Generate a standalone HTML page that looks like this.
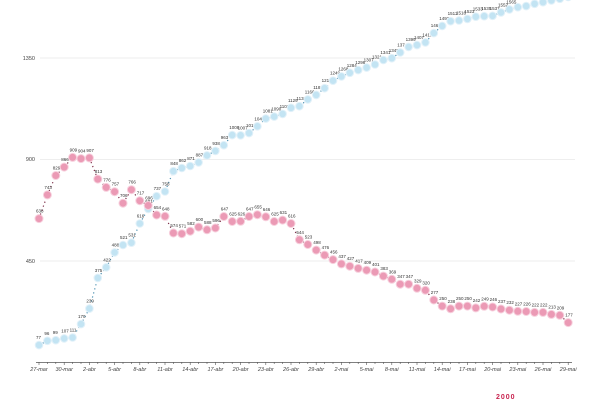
<!DOCTYPE html>
<html><head><meta charset="utf-8"><style>
html,body{margin:0;padding:0;background:#fff;width:600px;height:400px;overflow:hidden}
svg{display:block;font-family:"Liberation Sans",sans-serif}
.l{font-size:4.5px;fill:#333}
.r circle{fill:#eb9ab5;stroke:#f7d0dd;stroke-width:1}
.b circle{fill:#c3e4f3;stroke:#e2f1f9;stroke-width:1}
.ax{font-size:5.5px;fill:#444;font-style:italic}
</style></head><body>
<svg width="600" height="400" viewBox="0 0 600 400">
<g stroke="#e8e8e8" stroke-width="0.8">
<line x1="40" y1="58" x2="575" y2="58"/>
<line x1="40" y1="159.5" x2="575" y2="159.5"/>
<line x1="40" y1="261" x2="575" y2="261"/>
</g>
<g class="ax" text-anchor="end" style="font-style:normal">
<text x="35" y="60">1350</text><text x="35" y="161">900</text><text x="35" y="263">450</text>
</g>
<line x1="36" y1="362.5" x2="572" y2="362.5" stroke="#555" stroke-width="0.8"/>
<g stroke="#555" stroke-width="0.6">
<path d="M39 362v3M47.4 362v2M55.8 362v2M64.2 362v3M72.6 362v2M81 362v2M89.4 362v3M97.8 362v2M106.2 362v2M114.6 362v3M123 362v2M131.4 362v2M139.8 362v3M148.2 362v2M156.6 362v2M165 362v3M173.4 362v2M181.8 362v2M190.2 362v3M198.6 362v2M207 362v2M215.4 362v3M223.8 362v2M232.2 362v2M240.6 362v3M249 362v2M257.4 362v2M265.8 362v3M274.2 362v2M282.6 362v2M291 362v3M299.4 362v2M307.8 362v2M316.2 362v3M324.6 362v2M333 362v2M341.4 362v3M349.8 362v2M358.2 362v2M366.6 362v3M375 362v2M383.4 362v2M391.8 362v3M400.2 362v2M408.6 362v2M417 362v3M425.4 362v2M433.8 362v2M442.2 362v3M450.6 362v2M459 362v2M467.4 362v3M475.8 362v2M484.2 362v2M492.6 362v3M501 362v2M509.4 362v2M517.8 362v3M526.2 362v2M534.6 362v2M543 362v3M551.4 362v2M559.8 362v2M568.2 362v3"/>
</g>
<g class="ax" text-anchor="middle">
<text x="39" y="371">27-mar</text><text x="64.2" y="371">30-mar</text><text x="89.4" y="371">2-abr</text><text x="114.6" y="371">5-abr</text><text x="139.8" y="371">8-abr</text><text x="165" y="371">11-abr</text><text x="190.2" y="371">14-abr</text><text x="215.4" y="371">17-abr</text><text x="240.6" y="371">20-abr</text><text x="265.8" y="371">23-abr</text><text x="291" y="371">26-abr</text><text x="316.2" y="371">29-abr</text><text x="341.4" y="371">2-mai</text><text x="366.6" y="371">5-mai</text><text x="391.8" y="371">8-mai</text><text x="417" y="371">11-mai</text><text x="442.2" y="371">14-mai</text><text x="467.4" y="371">17-mai</text><text x="492.6" y="371">20-mai</text><text x="517.8" y="371">23-mai</text><text x="543" y="371">26-mai</text><text x="568.2" y="371">29-mai</text>
</g>
<polyline fill="none" stroke="#7a2a45" stroke-width="1.2" stroke-dasharray="1.2 3" points="39,218.6 47.4,194.9 55.8,175.5 64.2,167.1 72.6,157.4 81,158.6 89.4,157.9 97.8,179.1 106.2,187.4 114.6,191.7 123,203.2 131.4,189.7 139.8,200.7 148.2,205.5 156.6,215 165,216.3 173.4,233 181.8,233.7 190.2,231.2 198.6,227.1 207,229.8 215.4,228 223.8,216.5 232.2,221.5 240.6,221.3 249,216.5 257.4,214.7 265.8,216.8 274.2,221.5 282.6,220.1 291,223.5 299.4,239.8 307.8,244.5 316.2,250.1 324.6,255.1 333,259.6 341.4,263.9 349.8,266.2 358.2,268.4 366.6,270.2 375,272 383.4,276.1 391.8,279.3 400.2,284.2 408.6,284.2 417,288.3 425.4,290.3 433.8,300 442.2,306.1 450.6,308.8 459,306.1 467.4,306.1 475.8,307.9 484.2,306.3 492.6,307 501,309 509.4,310.2 517.8,311.3 526.2,311.5 534.6,312.4 543,312.4 551.4,314.4 559.8,315.3 568.2,322.6"/>
<polyline fill="none" stroke="#4a8fb0" stroke-width="1.2" stroke-dasharray="1.2 3" points="39,345.1 47.4,340.8 55.8,340.2 64.2,338.4 72.6,337.5 81,324.1 89.4,308.6 97.8,277.9 106.2,267.3 114.6,252.4 123,245 131.4,242.7 139.8,223.5 148.2,208.9 156.6,196.2 165,191.5 173.4,171.2 181.8,168 190.2,166 198.6,162.4 207,155.4 215.4,150.9 223.8,145.2 232.2,135.1 240.6,135.3 249,133.1 257.4,126.3 265.8,118.6 274.2,116.6 282.6,113.9 291,107.8 299.4,106.2 307.8,99.4 316.2,94.9 324.6,88.2 333,80.7 341.4,76.4 349.8,72.8 358.2,70.1 366.6,67.6 375,64.5 383.4,60 391.8,58.2 400.2,52.5 408.6,46.9 417,45.1 425.4,42.4 433.8,33.1 442.2,25.9 450.6,21.2 459,20.5 467.4,18.9 475.8,16.7 484.2,16.2 492.6,15.8 501,12.4 509.4,9.4 517.8,7.2 526.2,6.1 534.6,3.8 543,2.2 551.4,0.4 559.8,-1.2 568.2,-3"/>
<g class="b">
<g transform="translate(39,345.1)"><circle r="3.8"/><text class="l" x="-3" y="-6">77</text></g>
<g transform="translate(47.4,340.8)"><circle r="3.8"/><text class="l" x="-3" y="-6">96</text></g>
<g transform="translate(55.8,340.2)"><circle r="3.8"/><text class="l" x="-3" y="-6">99</text></g>
<g transform="translate(64.2,338.4)"><circle r="3.8"/><text class="l" x="-3" y="-6">107</text></g>
<g transform="translate(72.6,337.5)"><circle r="3.8"/><text class="l" x="-3" y="-6">111</text></g>
<g transform="translate(81,324.1)"><circle r="3.8"/><text class="l" x="-3" y="-6">170</text></g>
<g transform="translate(89.4,308.6)"><circle r="3.8"/><text class="l" x="-3" y="-6">239</text></g>
<g transform="translate(97.8,277.9)"><circle r="3.8"/><text class="l" x="-3" y="-6">375</text></g>
<g transform="translate(106.2,267.3)"><circle r="3.8"/><text class="l" x="-3" y="-6">422</text></g>
<g transform="translate(114.6,252.4)"><circle r="3.8"/><text class="l" x="-3" y="-6">488</text></g>
<g transform="translate(123,245)"><circle r="3.8"/><text class="l" x="-3" y="-6">521</text></g>
<g transform="translate(131.4,242.7)"><circle r="3.8"/><text class="l" x="-3" y="-6">531</text></g>
<g transform="translate(139.8,223.5)"><circle r="3.8"/><text class="l" x="-3" y="-6">616</text></g>
<g transform="translate(148.2,208.9)"><circle r="3.8"/><text class="l" x="-3" y="-6">681</text></g>
<g transform="translate(156.6,196.2)"><circle r="3.8"/><text class="l" x="-3" y="-6">737</text></g>
<g transform="translate(165,191.5)"><circle r="3.8"/><text class="l" x="-3" y="-6">758</text></g>
<g transform="translate(173.4,171.2)"><circle r="3.8"/><text class="l" x="-3" y="-6">848</text></g>
<g transform="translate(181.8,168)"><circle r="3.8"/><text class="l" x="-3" y="-6">862</text></g>
<g transform="translate(190.2,166)"><circle r="3.8"/><text class="l" x="-3" y="-6">871</text></g>
<g transform="translate(198.6,162.4)"><circle r="3.8"/><text class="l" x="-3" y="-6">887</text></g>
<g transform="translate(207,155.4)"><circle r="3.8"/><text class="l" x="-3" y="-6">918</text></g>
<g transform="translate(215.4,150.9)"><circle r="3.8"/><text class="l" x="-3" y="-6">938</text></g>
<g transform="translate(223.8,145.2)"><circle r="3.8"/><text class="l" x="-3" y="-6">963</text></g>
<g transform="translate(232.2,135.1)"><circle r="3.8"/><text class="l" x="-3" y="-6">1008</text></g>
<g transform="translate(240.6,135.3)"><circle r="3.8"/><text class="l" x="-3" y="-6">1007</text></g>
<g transform="translate(249,133.1)"><circle r="3.8"/><text class="l" x="-3" y="-6">1017</text></g>
<g transform="translate(257.4,126.3)"><circle r="3.8"/><text class="l" x="-3" y="-6">1047</text></g>
<g transform="translate(265.8,118.6)"><circle r="3.8"/><text class="l" x="-3" y="-6">1081</text></g>
<g transform="translate(274.2,116.6)"><circle r="3.8"/><text class="l" x="-3" y="-6">1090</text></g>
<g transform="translate(282.6,113.9)"><circle r="3.8"/><text class="l" x="-3" y="-6">1102</text></g>
<g transform="translate(291,107.8)"><circle r="3.8"/><text class="l" x="-3" y="-6">1129</text></g>
<g transform="translate(299.4,106.2)"><circle r="3.8"/><text class="l" x="-3" y="-6">1136</text></g>
<g transform="translate(307.8,99.4)"><circle r="3.8"/><text class="l" x="-3" y="-6">1166</text></g>
<g transform="translate(316.2,94.9)"><circle r="3.8"/><text class="l" x="-3" y="-6">1186</text></g>
<g transform="translate(324.6,88.2)"><circle r="3.8"/><text class="l" x="-3" y="-6">1216</text></g>
<g transform="translate(333,80.7)"><circle r="3.8"/><text class="l" x="-3" y="-6">1249</text></g>
<g transform="translate(341.4,76.4)"><circle r="3.8"/><text class="l" x="-3" y="-6">1268</text></g>
<g transform="translate(349.8,72.8)"><circle r="3.8"/><text class="l" x="-3" y="-6">1284</text></g>
<g transform="translate(358.2,70.1)"><circle r="3.8"/><text class="l" x="-3" y="-6">1296</text></g>
<g transform="translate(366.6,67.6)"><circle r="3.8"/><text class="l" x="-3" y="-6">1307</text></g>
<g transform="translate(375,64.5)"><circle r="3.8"/><text class="l" x="-3" y="-6">1321</text></g>
<g transform="translate(383.4,60)"><circle r="3.8"/><text class="l" x="-3" y="-6">1341</text></g>
<g transform="translate(391.8,58.2)"><circle r="3.8"/><text class="l" x="-3" y="-6">1349</text></g>
<g transform="translate(400.2,52.5)"><circle r="3.8"/><text class="l" x="-3" y="-6">1374</text></g>
<g transform="translate(408.6,46.9)"><circle r="3.8"/><text class="l" x="-3" y="-6">1399</text></g>
<g transform="translate(417,45.1)"><circle r="3.8"/><text class="l" x="-3" y="-6">1407</text></g>
<g transform="translate(425.4,42.4)"><circle r="3.8"/><text class="l" x="-3" y="-6">1419</text></g>
<g transform="translate(433.8,33.1)"><circle r="3.8"/><text class="l" x="-3" y="-6">1460</text></g>
<g transform="translate(442.2,25.9)"><circle r="3.8"/><text class="l" x="-3" y="-6">1492</text></g>
<g transform="translate(450.6,21.2)"><circle r="3.8"/><text class="l" x="-3" y="-6">1513</text></g>
<g transform="translate(459,20.5)"><circle r="3.8"/><text class="l" x="-3" y="-6">1516</text></g>
<g transform="translate(467.4,18.9)"><circle r="3.8"/><text class="l" x="-3" y="-6">1523</text></g>
<g transform="translate(475.8,16.7)"><circle r="3.8"/><text class="l" x="-3" y="-6">1533</text></g>
<g transform="translate(484.2,16.2)"><circle r="3.8"/><text class="l" x="-3" y="-6">1535</text></g>
<g transform="translate(492.6,15.8)"><circle r="3.8"/><text class="l" x="-3" y="-6">1537</text></g>
<g transform="translate(501,12.4)"><circle r="3.8"/><text class="l" x="-3" y="-6">1552</text></g>
<g transform="translate(509.4,9.4)"><circle r="3.8"/><text class="l" x="-3" y="-6">1565</text></g>
<g transform="translate(517.8,7.2)"><circle r="3.8"/></g>
<g transform="translate(526.2,6.1)"><circle r="3.8"/></g>
<g transform="translate(534.6,3.8)"><circle r="3.8"/></g>
<g transform="translate(543,2.2)"><circle r="3.8"/></g>
<g transform="translate(551.4,0.4)"><circle r="3.8"/></g>
<g transform="translate(559.8,-1.2)"><circle r="3.8"/></g>
<g transform="translate(568.2,-3)"><circle r="3.8"/></g>
</g>
<g class="r">
<g transform="translate(39,218.6)"><circle r="4"/><text class="l" x="-3" y="-6">638</text></g>
<g transform="translate(47.4,194.9)"><circle r="4"/><text class="l" x="-3" y="-6">743</text></g>
<g transform="translate(55.8,175.5)"><circle r="4"/><text class="l" x="-3" y="-6">829</text></g>
<g transform="translate(64.2,167.1)"><circle r="4"/><text class="l" x="-3" y="-6">866</text></g>
<g transform="translate(72.6,157.4)"><circle r="4"/><text class="l" x="-3" y="-6">909</text></g>
<g transform="translate(81,158.6)"><circle r="4"/><text class="l" x="-3" y="-6">904</text></g>
<g transform="translate(89.4,157.9)"><circle r="4"/><text class="l" x="-3" y="-6">907</text></g>
<g transform="translate(97.8,179.1)"><circle r="4"/><text class="l" x="-3" y="-6">813</text></g>
<g transform="translate(106.2,187.4)"><circle r="4"/><text class="l" x="-3" y="-6">776</text></g>
<g transform="translate(114.6,191.7)"><circle r="4"/><text class="l" x="-3" y="-6">757</text></g>
<g transform="translate(123,203.2)"><circle r="4"/><text class="l" x="-3" y="-6">706</text></g>
<g transform="translate(131.4,189.7)"><circle r="4"/><text class="l" x="-3" y="-6">766</text></g>
<g transform="translate(139.8,200.7)"><circle r="4"/><text class="l" x="-3" y="-6">717</text></g>
<g transform="translate(148.2,205.5)"><circle r="4"/><text class="l" x="-3" y="-6">696</text></g>
<g transform="translate(156.6,215)"><circle r="4"/><text class="l" x="-3" y="-6">654</text></g>
<g transform="translate(165,216.3)"><circle r="4"/><text class="l" x="-3" y="-6">648</text></g>
<g transform="translate(173.4,233)"><circle r="4"/><text class="l" x="-3" y="-6">574</text></g>
<g transform="translate(181.8,233.7)"><circle r="4"/><text class="l" x="-3" y="-6">571</text></g>
<g transform="translate(190.2,231.2)"><circle r="4"/><text class="l" x="-3" y="-6">582</text></g>
<g transform="translate(198.6,227.1)"><circle r="4"/><text class="l" x="-3" y="-6">600</text></g>
<g transform="translate(207,229.8)"><circle r="4"/><text class="l" x="-3" y="-6">588</text></g>
<g transform="translate(215.4,228)"><circle r="4"/><text class="l" x="-3" y="-6">596</text></g>
<g transform="translate(223.8,216.5)"><circle r="4"/><text class="l" x="-3" y="-6">647</text></g>
<g transform="translate(232.2,221.5)"><circle r="4"/><text class="l" x="-3" y="-6">625</text></g>
<g transform="translate(240.6,221.3)"><circle r="4"/><text class="l" x="-3" y="-6">626</text></g>
<g transform="translate(249,216.5)"><circle r="4"/><text class="l" x="-3" y="-6">647</text></g>
<g transform="translate(257.4,214.7)"><circle r="4"/><text class="l" x="-3" y="-6">655</text></g>
<g transform="translate(265.8,216.8)"><circle r="4"/><text class="l" x="-3" y="-6">646</text></g>
<g transform="translate(274.2,221.5)"><circle r="4"/><text class="l" x="-3" y="-6">625</text></g>
<g transform="translate(282.6,220.1)"><circle r="4"/><text class="l" x="-3" y="-6">631</text></g>
<g transform="translate(291,223.5)"><circle r="4"/><text class="l" x="-3" y="-6">616</text></g>
<g transform="translate(299.4,239.8)"><circle r="4"/><text class="l" x="-3" y="-6">544</text></g>
<g transform="translate(307.8,244.5)"><circle r="4"/><text class="l" x="-3" y="-6">523</text></g>
<g transform="translate(316.2,250.1)"><circle r="4"/><text class="l" x="-3" y="-6">498</text></g>
<g transform="translate(324.6,255.1)"><circle r="4"/><text class="l" x="-3" y="-6">476</text></g>
<g transform="translate(333,259.6)"><circle r="4"/><text class="l" x="-3" y="-6">456</text></g>
<g transform="translate(341.4,263.9)"><circle r="4"/><text class="l" x="-3" y="-6">437</text></g>
<g transform="translate(349.8,266.2)"><circle r="4"/><text class="l" x="-3" y="-6">427</text></g>
<g transform="translate(358.2,268.4)"><circle r="4"/><text class="l" x="-3" y="-6">417</text></g>
<g transform="translate(366.6,270.2)"><circle r="4"/><text class="l" x="-3" y="-6">409</text></g>
<g transform="translate(375,272)"><circle r="4"/><text class="l" x="-3" y="-6">401</text></g>
<g transform="translate(383.4,276.1)"><circle r="4"/><text class="l" x="-3" y="-6">383</text></g>
<g transform="translate(391.8,279.3)"><circle r="4"/><text class="l" x="-3" y="-6">369</text></g>
<g transform="translate(400.2,284.2)"><circle r="4"/><text class="l" x="-3" y="-6">347</text></g>
<g transform="translate(408.6,284.2)"><circle r="4"/><text class="l" x="-3" y="-6">347</text></g>
<g transform="translate(417,288.3)"><circle r="4"/><text class="l" x="-3" y="-6">329</text></g>
<g transform="translate(425.4,290.3)"><circle r="4"/><text class="l" x="-3" y="-6">320</text></g>
<g transform="translate(433.8,300)"><circle r="4"/><text class="l" x="-3" y="-6">277</text></g>
<g transform="translate(442.2,306.1)"><circle r="4"/><text class="l" x="-3" y="-6">250</text></g>
<g transform="translate(450.6,308.8)"><circle r="4"/><text class="l" x="-3" y="-6">238</text></g>
<g transform="translate(459,306.1)"><circle r="4"/><text class="l" x="-3" y="-6">250</text></g>
<g transform="translate(467.4,306.1)"><circle r="4"/><text class="l" x="-3" y="-6">250</text></g>
<g transform="translate(475.8,307.9)"><circle r="4"/><text class="l" x="-3" y="-6">242</text></g>
<g transform="translate(484.2,306.3)"><circle r="4"/><text class="l" x="-3" y="-6">249</text></g>
<g transform="translate(492.6,307)"><circle r="4"/><text class="l" x="-3" y="-6">246</text></g>
<g transform="translate(501,309)"><circle r="4"/><text class="l" x="-3" y="-6">237</text></g>
<g transform="translate(509.4,310.2)"><circle r="4"/><text class="l" x="-3" y="-6">232</text></g>
<g transform="translate(517.8,311.3)"><circle r="4"/><text class="l" x="-3" y="-6">227</text></g>
<g transform="translate(526.2,311.5)"><circle r="4"/><text class="l" x="-3" y="-6">226</text></g>
<g transform="translate(534.6,312.4)"><circle r="4"/><text class="l" x="-3" y="-6">222</text></g>
<g transform="translate(543,312.4)"><circle r="4"/><text class="l" x="-3" y="-6">222</text></g>
<g transform="translate(551.4,314.4)"><circle r="4"/><text class="l" x="-3" y="-6">213</text></g>
<g transform="translate(559.8,315.3)"><circle r="4"/><text class="l" x="-3" y="-6">209</text></g>
<g transform="translate(568.2,322.6)"><circle r="4"/><text class="l" x="-3" y="-6">177</text></g>
</g>
<text x="496" y="399" font-size="7" font-weight="bold" fill="#c8234f" letter-spacing="1">2000</text>
</svg>
</body></html>
